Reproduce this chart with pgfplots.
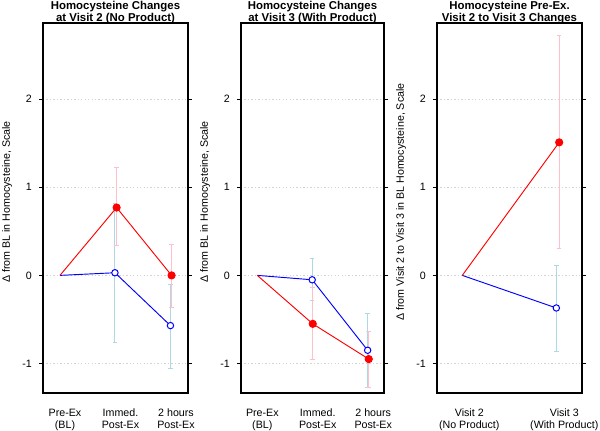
\documentclass[border=0pt]{standalone}
\usepackage{fontspec}
\setmainfont{Liberation Sans}
\usepackage{pgfplots}
\pgfplotsset{compat=1.18}
\definecolor{ebred}{HTML}{FFC0CB}
\definecolor{ebblue}{HTML}{ADD8E6}
\definecolor{gridc}{HTML}{D3D3D3}
\pgfplotsset{
  panel/.style={
    scale only axis, height=277.5pt,
    ymin=-1.335, ymax=2.865,
    ytick={-1,0,1,2}, yticklabels={-1,0,1,2},
    xtick={1,2,3},
    tick align=outside,
    major tick length=3pt,
    xtick style={draw=none},
    ytick style={draw=black, line width=0.6pt},
    axis line style={line width=0.8pt},
    ymajorgrids, major grid style={gridc, line width=0.6pt, dash pattern=on 1pt off 1.6pt},
    tick label style={font=\fontsize{8}{9}\selectfont},
    yticklabel style={xshift=-1.8pt},
    xticklabel style={align=center, yshift=-5.25pt, xshift=3.75pt},
    ylabel style={at={(axis description cs:0,0.5)}, anchor=center, yshift=27pt, xshift=4.5pt, font=\fontsize{8}{9}\selectfont},
    title style={at={(axis description cs:0.5,1)}, anchor=south, yshift=-10pt, align=center, font=\bfseries\fontsize{8.55}{7}\selectfont},
    clip=false,
  },
  eb/.style={only marks, mark=none, forget plot,
    error bars/.cd, y dir=both, y explicit,
    error bar style={draw=#1, line width=0.7pt},
    error mark options={draw=#1, rotate=90, mark size=1.7pt, line width=0.7pt}},
  redline/.style={red, line width=0.7pt, mark=*, mark indices={2,3}, mark size=2.7pt, mark options={fill=red, draw=red}},
  blueline/.style={blue, line width=0.7pt, mark=*, mark indices={2,3}, mark size=2.4pt, mark options={fill=white, draw=blue, line width=0.75pt}},
}
\begin{document}
\begin{tikzpicture}
\path[use as bounding box] (0,0) rectangle (450pt,323.25pt);
% Panel 1
\begin{axis}[panel, at={(32.25pt,306pt)}, anchor=north west, width=108.75pt,
  xmin=0.694, xmax=3.306,
  xticklabels={{Pre-Ex\\(BL)},{Immed.\\Post-Ex},{2 hours\\Post-Ex}},
  ylabel={Δ from BL in Homocysteine, Scale},
  title={Homocysteine Changes\\at Visit 2 (No Product)}]
\addplot[eb=ebblue] table[x=x, y=y, y error plus=ep, y error minus=em] {
x y ep em
1.99 0.03 0.79 0.79
2.99 -0.57 0.47 0.49
};
\addplot[eb=ebred] table[x=x, y=y, y error plus=ep, y error minus=em] {
x y ep em
2.02 0.77 0.45 0.43
3.01 0.00 0.35 0.36
};
\addplot[blueline] table[x=x, y=y] {
x y
1 0
1.99 0.03
2.99 -0.57
};
\addplot[redline] table[x=x, y=y] {
x y
1 0
2.02 0.77
3.01 0.00
};
\end{axis}
% Panel 2
\begin{axis}[panel, at={(180.75pt,306pt)}, anchor=north west, width=107.25pt,
  xmin=0.706, xmax=3.285,
  xticklabels={{Pre-Ex\\(BL)},{Immed.\\Post-Ex},{2 hours\\Post-Ex}},
  ylabel={Δ from BL in Homocysteine, Scale},
  title={Homocysteine Changes\\at Visit 3 (With Product)}]
\addplot[eb=ebblue] table[x=x, y=y, y error plus=ep, y error minus=em] {
x y ep em
1.99 -0.05 0.24 0.24
2.99 -0.85 0.42 0.42
};
\addplot[eb=ebred] table[x=x, y=y, y error plus=ep, y error minus=em] {
x y ep em
2.00 -0.55 0.41 0.40
3.01 -0.95 0.31 0.32
};
\addplot[blueline] table[x=x, y=y] {
x y
1 0
1.99 -0.05
2.99 -0.85
};
\addplot[redline] table[x=x, y=y] {
x y
1 0
2.00 -0.55
3.01 -0.95
};
\end{axis}
% Panel 3
\begin{axis}[panel, at={(327.75pt,306pt)}, anchor=north west, width=108.75pt,
  xmin=0.734, xmax=2.26, xtick={1,2},
  xticklabel style={xshift=1.5pt},
  xticklabels={{Visit 2\\(No Product)},{Visit 3\\(With Product)}},
  ylabel={Δ from Visit 2 to Visit 3 in BL Homocysteine, Scale},
  title={Homocysteine Pre-Ex.\\Visit 2 to Visit 3 Changes}]
\addplot[eb=ebblue] table[x=x, y=y, y error plus=ep, y error minus=em] {
x y ep em
1.99 -0.37 0.48 0.49
};
\addplot[eb=ebred] table[x=x, y=y, y error plus=ep, y error minus=em] {
x y ep em
2.02 1.51 1.21 1.21
};
\addplot[blue, line width=0.7pt, mark=*, mark indices={2}, mark size=2.4pt, mark options={fill=white, draw=blue, line width=0.75pt}] table[x=x, y=y] {
x y
1 0
1.99 -0.37
};
\addplot[red, line width=0.7pt, mark=*, mark indices={2}, mark size=2.7pt, mark options={fill=red, draw=red}] table[x=x, y=y] {
x y
1 0
2.02 1.51
};
\end{axis}
\end{tikzpicture}
\end{document}
